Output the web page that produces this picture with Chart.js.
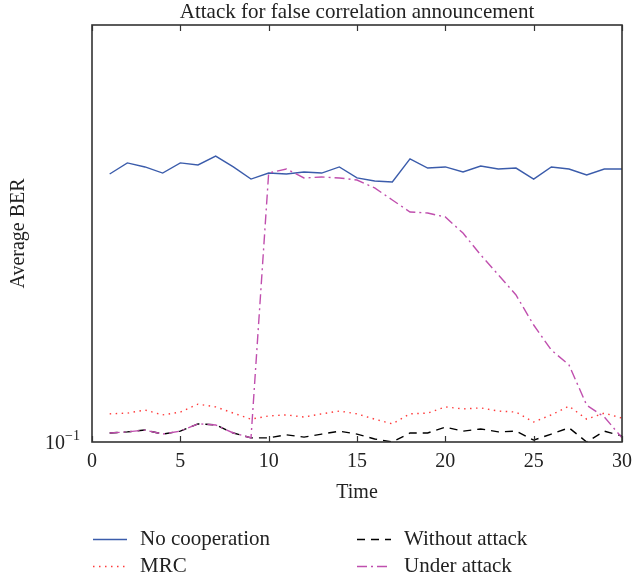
<!DOCTYPE html>
<html>
<head>
<meta charset="utf-8">
<script src="https://cdn.jsdelivr.net/npm/chart.js@4.4.1/dist/chart.umd.min.js"></script>
<style>
  html, body { margin: 0; padding: 0; background: #fff; }
  #chart { display: block; }
</style>
</head>
<body>
<canvas id="chart" width="635" height="577"></canvas>
<script>
// データ
const timeSteps = [1, 2, 3, 4, 5, 6, 7, 8, 9, 10, 11, 12, 13, 14, 15, 16, 17, 18, 19, 20, 21, 22, 23, 24, 25, 26, 27, 28, 29, 30];
const noCooperation = [0.2026, 0.2086, 0.2064, 0.2031, 0.2086, 0.2075, 0.2124, 0.2064, 0.1999, 0.2031,
                       0.2026, 0.2037, 0.2031, 0.2064, 0.2005, 0.1989, 0.1984, 0.2108, 0.2058, 0.2064,
                       0.2037, 0.2069, 0.2053, 0.2058, 0.1999, 0.2064, 0.2053, 0.2021, 0.2053, 0.2053];
const mrc = [0.1077, 0.1079, 0.1088, 0.1074, 0.1082, 0.1105, 0.1097, 0.1079, 0.1062, 0.1071,
             0.1074, 0.1068, 0.1077, 0.1085, 0.1077, 0.1062, 0.1049, 0.1077, 0.1079, 0.1097,
             0.1091, 0.1094, 0.1085, 0.1082, 0.1054, 0.1074, 0.1099, 0.1062, 0.1079, 0.1065];
const withoutAttack = [0.1024, 0.1027, 0.1032, 0.1021, 0.1029, 0.1049, 0.1046, 0.1024, 0.1011, 0.1011,
                       0.1019, 0.1013, 0.1021, 0.1029, 0.1021, 0.1008, 0.1000, 0.1024, 0.1024, 0.1040,
                       0.1029, 0.1035, 0.1027, 0.1029, 0.1005, 0.1021, 0.1038, 0.1000, 0.1029, 0.1016];
const underAttack = [0.1024, 0.1027, 0.1032, 0.1021, 0.1029, 0.1049, 0.1046, 0.1024, 0.1011, 0.2031,
                     0.2053, 0.2005, 0.2010, 0.2005, 0.1994, 0.1953, 0.1892, 0.1833, 0.1828, 0.1809,
                     0.1734, 0.1637, 0.1553, 0.1473, 0.1361, 0.1274, 0.1225, 0.1102, 0.1068, 0.1011];
const xTicks = [0, 5, 10, 15, 20, 25, 30];

const SERIF = "'Liberation Serif', 'DejaVu Serif', serif";

// 軸枠・目盛・文字・凡例を描くプラグイン
const framePlugin = {
    id: 'frame',
    beforeDraw(chart) {
        const c = chart.ctx;
        c.save();
        c.fillStyle = '#ffffff';
        c.fillRect(0, 0, chart.width, chart.height);
        c.restore();
    },
    afterDraw(chart) {
        const c = chart.ctx;
        const a = chart.chartArea;
        const xs = chart.scales.x;
        const ys = chart.scales.y;
        c.save();

        // 枠
        c.strokeStyle = '#333';
        c.lineWidth = 1.6;
        c.strokeRect(a.left, a.top, a.right - a.left, a.bottom - a.top);

        // x目盛 (内向き)
        c.lineWidth = 1.2;
        xTicks.forEach(v => {
            const px = Math.round(xs.getPixelForValue(v)) + 0.5;
            c.beginPath();
            c.moveTo(px, a.bottom); c.lineTo(px, a.bottom - 6);
            c.moveTo(px, a.top); c.lineTo(px, a.top + 6);
            c.stroke();
        });

        // x目盛ラベル
        c.fillStyle = '#222';
        c.font = '20px ' + SERIF;
        c.textAlign = 'center';
        c.textBaseline = 'middle';
        xTicks.forEach(v => {
            c.fillText(String(v), xs.getPixelForValue(v), a.bottom + 20);
        });

        // y目盛ラベル 10^-1
        const y01 = ys.getPixelForValue(0.1);
        c.textAlign = 'right';
        c.font = '20px ' + SERIF;
        c.fillText('10', 65, y01 + 2);
        c.textAlign = 'left';
        c.font = '14px ' + SERIF;
        c.fillText('\u22121', 65, y01 - 6);

        // タイトル
        c.font = '21px ' + SERIF;
        c.textAlign = 'center';
        c.fillText('Attack for false correlation announcement', (a.left + a.right) / 2, 12);

        // 軸タイトル
        c.font = '20px ' + SERIF;
        c.fillText('Time', (a.left + a.right) / 2, 493);
        c.save();
        c.translate(19, (a.top + a.bottom) / 2);
        c.rotate(-Math.PI / 2);
        c.fillText('Average BER', 0, 0);
        c.restore();

        // 凡例 (2列)
        const ds = chart.data.datasets;
        const slots = [
            { i: 0, x: 93, y: 539 },
            { i: 1, x: 93, y: 566 },
            { i: 2, x: 357, y: 539 },
            { i: 3, x: 357, y: 566 },
        ];
        slots.forEach(s => {
            const d = ds[s.i];
            c.save();
            c.strokeStyle = d.borderColor;
            c.lineWidth = d.borderWidth;
            c.setLineDash(d.borderDash || []);
            c.beginPath();
            c.moveTo(s.x, s.y + 0.5);
            c.lineTo(s.x + 34, s.y + 0.5);
            c.stroke();
            c.restore();
            c.fillStyle = '#222';
            c.font = '21px ' + SERIF;
            c.textAlign = 'left';
            c.textBaseline = 'middle';
            c.fillText(d.label, s.x + 47, s.y);
        });

        c.restore();
    }
};

const toPoints = (vals) => timeSteps.map((t, i) => ({ x: t, y: vals[i] }));

new Chart(document.getElementById('chart'), {
    type: 'line',
    data: {
        datasets: [
            {
                label: 'No cooperation',
                data: toPoints(noCooperation),
                borderColor: '#3b5cab',
                borderWidth: 1.4,
                order: 1,
            },
            {
                label: 'MRC',
                data: toPoints(mrc),
                borderColor: '#ff3b3b',
                borderWidth: 1.4,
                borderDash: [1.5, 4.5],
                order: 3,
            },
            {
                label: 'Without attack',
                data: toPoints(withoutAttack),
                borderColor: '#000000',
                borderWidth: 1.4,
                borderDash: [8, 6],
                order: 2,
            },
            {
                label: 'Under attack',
                data: toPoints(underAttack),
                borderColor: '#c04fae',
                borderWidth: 1.4,
                borderDash: [10, 4, 2, 4],
                order: 0,
            },
        ],
    },
    options: {
        responsive: false,
        animation: false,
        devicePixelRatio: 1,
        layout: { padding: { left: 92, right: 13, top: 25, bottom: 135 } },
        elements: {
            point: { radius: 0 },
            line: { tension: 0, fill: false },
        },
        scales: {
            x: { type: 'linear', min: 0, max: 30, display: false },
            y: { type: 'logarithmic', min: 0.1, max: 0.3, display: false },
        },
        plugins: {
            legend: { display: false },
            title: { display: false },
            tooltip: { enabled: false },
        },
    },
    plugins: [framePlugin],
});
</script>
</body>
</html>
